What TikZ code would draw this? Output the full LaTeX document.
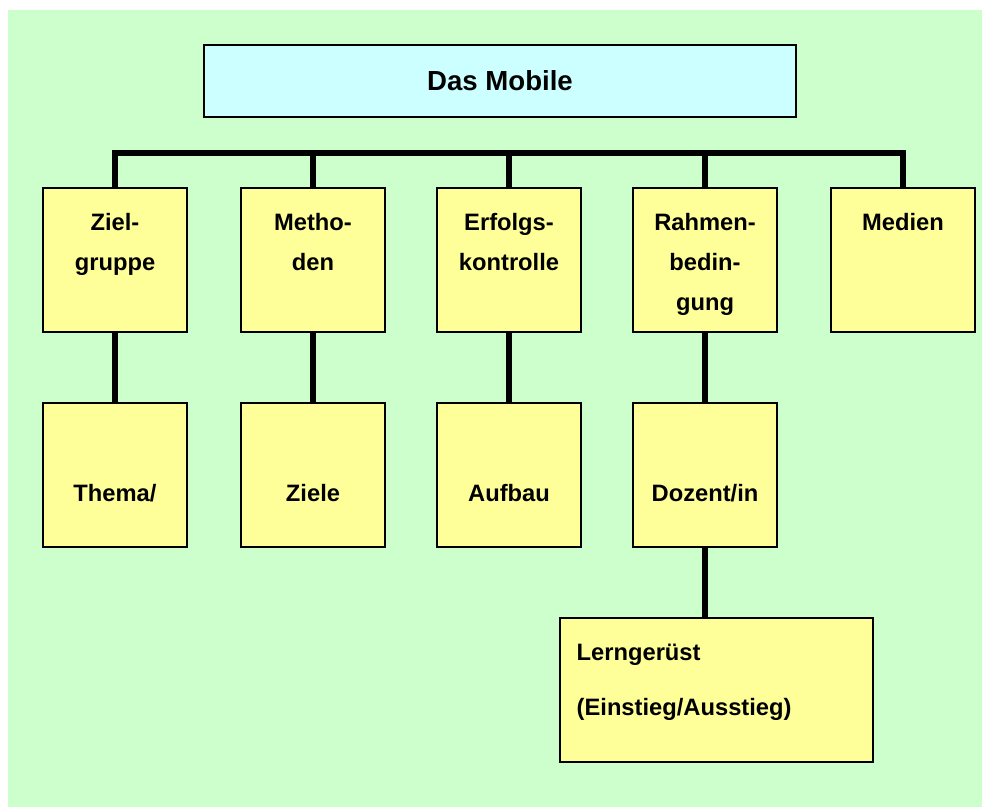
\documentclass[tikz,border=0pt]{standalone}
\usepackage{fontspec}
\setmainfont{Liberation Sans}
\usetikzlibrary{positioning}
\definecolor{mgreen}{RGB}{204,255,204}
\definecolor{mcyan}{RGB}{204,255,255}
\definecolor{myellow}{RGB}{255,255,153}
\tikzset{card/.style = {draw, fill = myellow, line width = 0.8pt,
                        minimum width = 2.88cm, minimum height = 2.88cm, inner sep = 0}}
\tikzset{toptext/.style = {anchor = north, yshift = -0.52cm, inner sep = 0, align = center,
                           font = \bfseries\fontsize{13.5}{22.8}\selectfont}}
\tikzset{lowtext/.style = {anchor = base, yshift = -1.98cm, inner sep = 0,
                           font = \bfseries\fontsize{13.5}{22.8}\selectfont}}
\tikzset{conn/.style = {line width = 0.11cm}}

\begin{document}
\begin{tikzpicture}[x = 0.02cm, y = -0.02cm]
      \useasboundingbox (0, 0) rectangle (982, 807);
      \fill [mgreen] (8, 10) rectangle (982, 807);

      \node [draw, fill = mcyan, line width = 0.8pt, minimum width = 11.84cm, minimum height = 1.44cm,
             font = \bfseries\fontsize{15.7}{19}\selectfont] (mobile) at (500, 81) {Das Mobile};

      \node [card, label = {[toptext]north:{Ziel-\\gruppe}}] (ziel) at (115, 260) {};
      \node [card, label = {[toptext]north:{Metho-\\den}}] (meth) at (313, 260) {};
      \node [card, label = {[toptext]north:{Erfolgs-\\kontrolle}}] (erfolg) at (509, 260) {};
      \node [card, label = {[toptext]north:{Rahmen-\\bedin-\\gung}}] (rahmen) at (705, 260) {};
      \node [card, label = {[toptext]north:{Medien}}] (medien) at (903, 260) {};

      \node [card, label = {[lowtext]north:{Thema/}}] (thema) at (115, 475) {};
      \node [card, label = {[lowtext]north:{Ziele}}] (ziele) at (313, 475) {};
      \node [card, label = {[lowtext]north:{Aufbau}}] (aufbau) at (509, 475) {};
      \node [card, label = {[lowtext]north:{Dozent/in}}] (dozent) at (705, 475) {};

      \node [card, minimum width = 6.26cm,
             label = {[toptext, anchor = north west, xshift = 0.34cm, align = left,
                       font = \bfseries\fontsize{13.5}{31.3}\selectfont]north west:{Lernger\"ust\\(Einstieg/Ausstieg)}}]
            (geruest) at (716.5, 690) {};

      \coordinate (bar) at (0, 153);
      \draw [conn] (ziel.north) -- (ziel.north |- bar) -- (medien.north |- bar) -- (medien.north);
      \foreach \n in {meth, erfolg, rahmen}
        \draw [conn] (\n.north) -- (\n.north |- bar);

      \draw [conn] (ziel) -- (thema);
      \draw [conn] (meth) -- (ziele);
      \draw [conn] (erfolg) -- (aufbau);
      \draw [conn] (rahmen) -- (dozent);
      \draw [conn] (dozent.south) -- (dozent.south |- geruest.north);
    \end{tikzpicture}
\end{document}
